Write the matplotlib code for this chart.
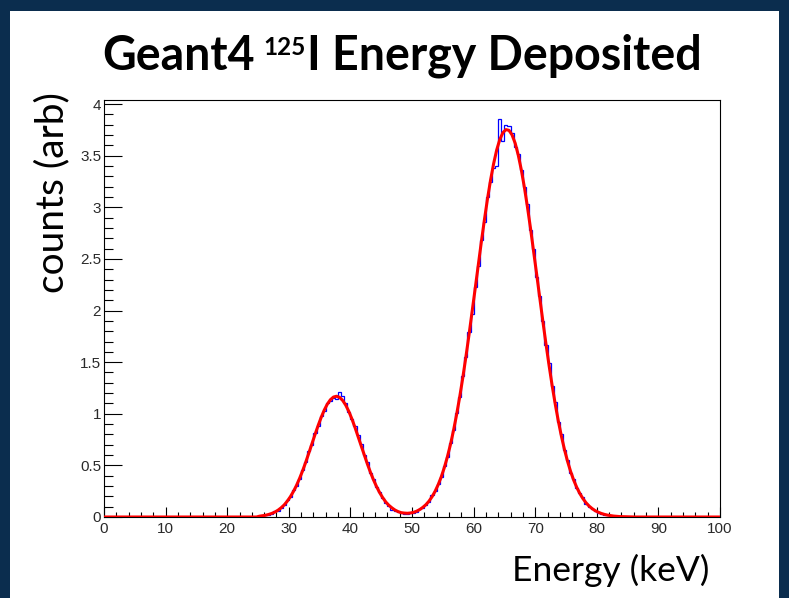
import numpy as np
import matplotlib.pyplot as plt
from matplotlib.patches import Rectangle
from matplotlib.ticker import MultipleLocator

# histogram: 0.5 keV bins, 0-100 keV; non-empty bins start at 25.0 keV
bin_width = 0.5
first_filled = 25.0
counts = [
    0.01, 0.00, 0.02, 0.02, 0.03, 0.06, 0.06, 0.09, 0.12, 0.16,   # 25.0 - 30.0
    0.19, 0.26, 0.30, 0.37, 0.46, 0.53, 0.64, 0.70, 0.81, 0.88,   # 30.0 - 35.0
    0.98, 1.03, 1.10, 1.12, 1.15, 1.14, 1.21, 1.17, 1.10, 1.02,   # 35.0 - 40.0
    0.95, 0.88, 0.79, 0.71, 0.60, 0.53, 0.43, 0.37, 0.29, 0.24,   # 40.0 - 45.0
    0.18, 0.14, 0.11, 0.07, 0.06, 0.05, 0.04, 0.03, 0.03, 0.04,   # 45.0 - 50.0
    0.04, 0.05, 0.08, 0.09, 0.12, 0.15, 0.21, 0.25, 0.32, 0.39,   # 50.0 - 55.0
    0.49, 0.58, 0.72, 0.84, 1.01, 1.16, 1.37, 1.55, 1.79, 1.97,   # 55.0 - 60.0
    2.23, 2.43, 2.68, 2.86, 3.10, 3.25, 3.38, 3.40, 3.86, 3.64,   # 60.0 - 65.0
    3.80, 3.79, 3.72, 3.58, 3.52, 3.36, 3.20, 3.03, 2.78, 2.60,   # 65.0 - 70.0
    2.33, 2.14, 1.90, 1.67, 1.49, 1.27, 1.11, 0.92, 0.80, 0.65,   # 70.0 - 75.0
    0.55, 0.43, 0.37, 0.28, 0.23, 0.19, 0.13, 0.10, 0.08, 0.06,   # 75.0 - 80.0
    0.04, 0.03, 0.02, 0.02, 0.01, 0.01, 0.00, 0.00, 0.00, 0.00,   # 80.0 - 85.0
]

# fitted curve (red), read at the bin centres 25.25 ... 84.75
fit_vals = [
    0.008, 0.012, 0.017, 0.025, 0.035, 0.048, 0.066, 0.089, 0.117, 0.153,
    0.196, 0.247, 0.306, 0.374, 0.449, 0.531, 0.618, 0.708, 0.798, 0.884,
    0.964, 1.035, 1.093, 1.136, 1.162, 1.170, 1.159, 1.129, 1.083, 1.022,
    0.949, 0.867, 0.780, 0.690, 0.601, 0.515, 0.434, 0.360, 0.294, 0.236,
    0.187, 0.145, 0.113, 0.088, 0.067, 0.052, 0.042, 0.038, 0.036, 0.039,
    0.045, 0.056, 0.072, 0.093, 0.119, 0.153, 0.196, 0.249, 0.313, 0.389,
    0.479, 0.584, 0.704, 0.841, 0.995, 1.165, 1.351, 1.551, 1.763, 1.984,
    2.210, 2.437, 2.662, 2.877, 3.080, 3.263, 3.423, 3.556, 3.657, 3.723,
    3.753, 3.746, 3.701, 3.621, 3.506, 3.362, 3.192, 3.000, 2.792, 2.572,
    2.346, 2.118, 1.894, 1.676, 1.469, 1.274, 1.095, 0.931, 0.784, 0.654,
    0.540, 0.441, 0.357, 0.286, 0.227, 0.178, 0.138, 0.106, 0.081, 0.061,
    0.046, 0.034, 0.025, 0.018, 0.013, 0.009, 0.006, 0.004, 0.003, 0.002,
]

title_parts = ['Geant4', '125', 'I Energy Deposited']   # middle part is a superscript
xlabel = 'Energy (keV)'
ylabel = 'counts (arb)'

edges = np.arange(0, 100 + bin_width, bin_width)
centers = edges[:-1] + bin_width / 2
start = int(round(first_filled / bin_width))
hist = np.zeros(len(centers))
hist[start:start + len(counts)] = counts
fit = np.zeros(len(centers))
fit[start:start + len(fit_vals)] = fit_vals

W, H = 789, 598
fig = plt.figure(figsize=(W / 100, H / 100), dpi=100)
fig.patch.set_facecolor('#0b2d4e')
fig.patches.append(Rectangle((10 / W, 0), 769 / W, 1 - 11 / H, transform=fig.transFigure,
                             facecolor='white', edgecolor='none', zorder=-5))

ax = fig.add_axes([104 / W, 1 - 517 / H, 616 / W, 417 / H])
ax.stairs(hist, edges, color='#0000ff', lw=0.9, zorder=2)
ax.plot(centers, fit, color='#ff0000', lw=2.2, zorder=3, solid_joinstyle='round')

ax.set_xlim(0, 100)
ax.set_ylim(0, 4.04)
ax.xaxis.set_major_locator(MultipleLocator(10))
ax.xaxis.set_minor_locator(MultipleLocator(2))
ax.yaxis.set_major_locator(MultipleLocator(0.5))
ax.yaxis.set_minor_locator(MultipleLocator(0.1))
ax.yaxis.set_major_formatter(plt.FuncFormatter(lambda v, p: f'{v:g}'))
ax.tick_params(which='both', direction='in', top=False, right=False,
               width=0.8, color='black', labelcolor='#2a2a2a', labelsize=11)
ax.tick_params(axis='y', which='major', length=13, pad=2)
ax.tick_params(axis='y', which='minor', length=6.5)
ax.tick_params(axis='x', which='major', length=7, pad=3.5)
ax.tick_params(axis='x', which='minor', length=3.6)
for s in ax.spines.values():
    s.set_linewidth(0.8)
for lab in ax.get_xticklabels() + ax.get_yticklabels():
    lab.set_fontfamily('Liberation Sans')

# title built from pieces so the isotope number sits as a small superscript
base_y = 1 - 70 / H
t1 = fig.text(0, base_y, title_parts[0], fontsize=33.5, fontweight='bold',
              family='Lato', va='baseline')
t2 = fig.text(0, base_y + 15 / H, title_parts[1], fontsize=17.5, fontweight='bold',
              family='Lato', va='baseline')
t3 = fig.text(0, base_y, title_parts[2], fontsize=33.5, fontweight='bold',
              family='Lato', va='baseline')
r = fig.canvas.get_renderer()
w1 = t1.get_window_extent(r).width
w2 = t2.get_window_extent(r).width
w3 = t3.get_window_extent(r).width
gap = 9
total = w1 + gap + w2 + 1 + w3
x0 = 402 - total / 2
t1.set_x(x0 / W)
t2.set_x((x0 + w1 + gap) / W)
t3.set_x((x0 + w1 + gap + w2 + 1) / W)

fig.text(611 / W, 1 - 570 / H, xlabel, ha='center', va='center',
         fontsize=25.5, family='Lato')
fig.text(52 / W, 1 - 193 / H, ylabel, ha='center', va='center',
         rotation=90, fontsize=28, family='Lato')

fig.savefig('out.png', dpi=100, facecolor=fig.get_facecolor())
